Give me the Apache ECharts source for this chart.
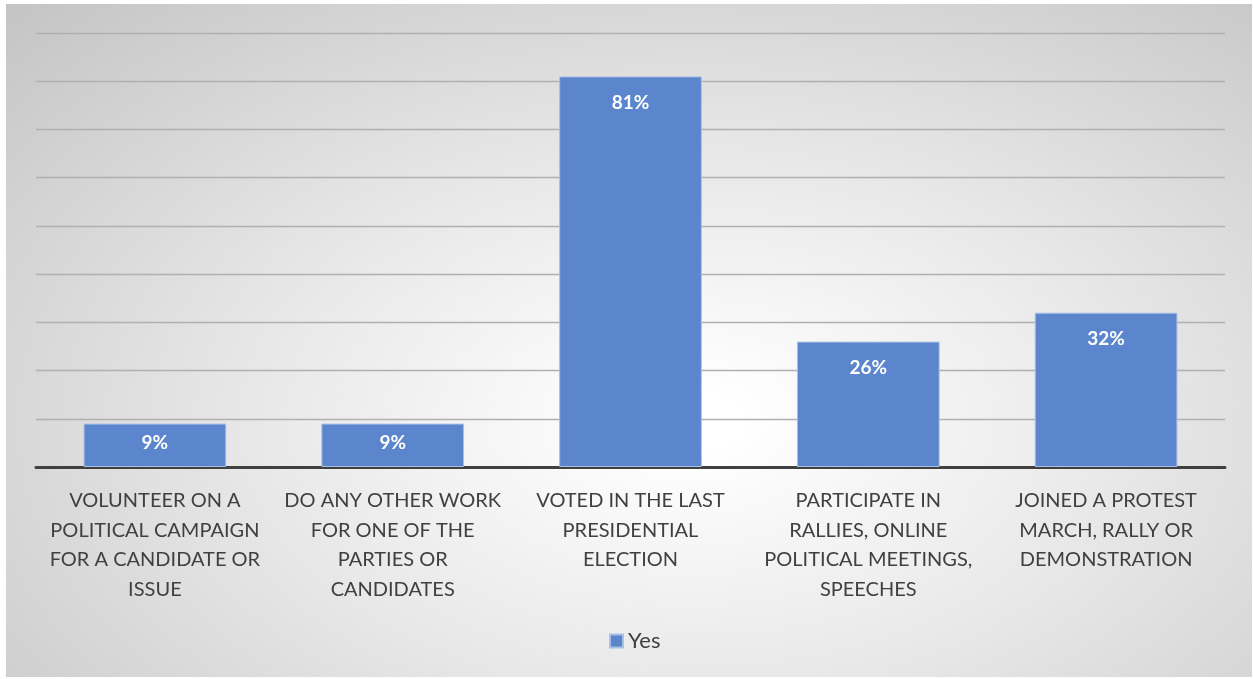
<!DOCTYPE html>
<html>
<head>
<meta charset="utf-8">
<script src="https://cdn.jsdelivr.net/npm/echarts@6/dist/echarts.min.js"></script>
<style>
  html, body { margin: 0; padding: 0; background: #fff; }
  #bg {
    position: absolute; left: 6px; top: 4px; width: 1246px; height: 673px;
    background: radial-gradient(ellipse farthest-corner at 55% 62%, #ffffff 5%, #e8e8e8 45%, #c4c4c4 100%);
  }
  #main { position: absolute; left: 0; top: 0; width: 1253px; height: 679px; }
</style>
</head>
<body>
<div id="bg"></div>
<div id="main"></div>
<script>
  // categories and values
  var categories = [
    'VOLUNTEER ON A\nPOLITICAL CAMPAIGN\nFOR A CANDIDATE OR\nISSUE',
    'DO ANY OTHER WORK\nFOR ONE OF THE\nPARTIES OR\nCANDIDATES',
    'VOTED IN THE LAST\nPRESIDENTIAL\nELECTION',
    'PARTICIPATE IN\nRALLIES, ONLINE\nPOLITICAL MEETINGS,\nSPEECHES',
    'JOINED A PROTEST\nMARCH, RALLY OR\nDEMONSTRATION'
  ];
  var yesValues = [9, 9, 81, 26, 32];
  var seriesName = 'Yes';

  var myChart = echarts.init(document.getElementById('main'));
  var option = {
    backgroundColor: 'transparent',
    animation: false,
    textStyle: { fontFamily: 'Lato' },
    legend: {
      bottom: 22,
      left: 604,
      itemWidth: 13,
      itemHeight: 13,
      icon: 'rect',
      textStyle: { color: '#404040', fontSize: 22, fontFamily: 'Lato' },
      data: [seriesName]
    },
    grid: {
      left: 36,
      right: 28,
      top: 33,
      bottom: 212,
      containLabel: false
    },
    xAxis: {
      type: 'category',
      data: categories,
      axisLine: { show: true, lineStyle: { color: '#404040', width: 3 } },
      axisTick: { show: false },
      axisLabel: {
        interval: 0,
        margin: 19,
        color: '#404040',
        fontSize: 20,
        lineHeight: 29.5,
        fontFamily: 'Lato'
      }
    },
    yAxis: {
      type: 'value',
      min: 0,
      max: 90,
      interval: 10,
      axisLine: { show: false },
      axisTick: { show: false },
      axisLabel: { show: false },
      splitLine: { show: true, lineStyle: { color: '#b0b0b0', width: 1.3 } }
    },
    series: [{
      name: seriesName,
      type: 'bar',
      barWidth: '60%',
      // short bars keep their label nearer the top, as in the original
      data: yesValues.map(function (v) {
        return { value: v, label: { distance: v < 15 ? 10 : 17 } };
      }),
      itemStyle: { color: '#5b85cc', borderColor: '#a8bfe6', borderWidth: 1 },
      label: {
        show: true,
        position: 'insideTop',
        formatter: '{c}%',
        color: '#fff',
        fontWeight: 'bold',
        fontSize: 19,
        fontFamily: 'Lato'
      }
    }]
  };
  myChart.setOption(option);
</script>
</body>
</html>
